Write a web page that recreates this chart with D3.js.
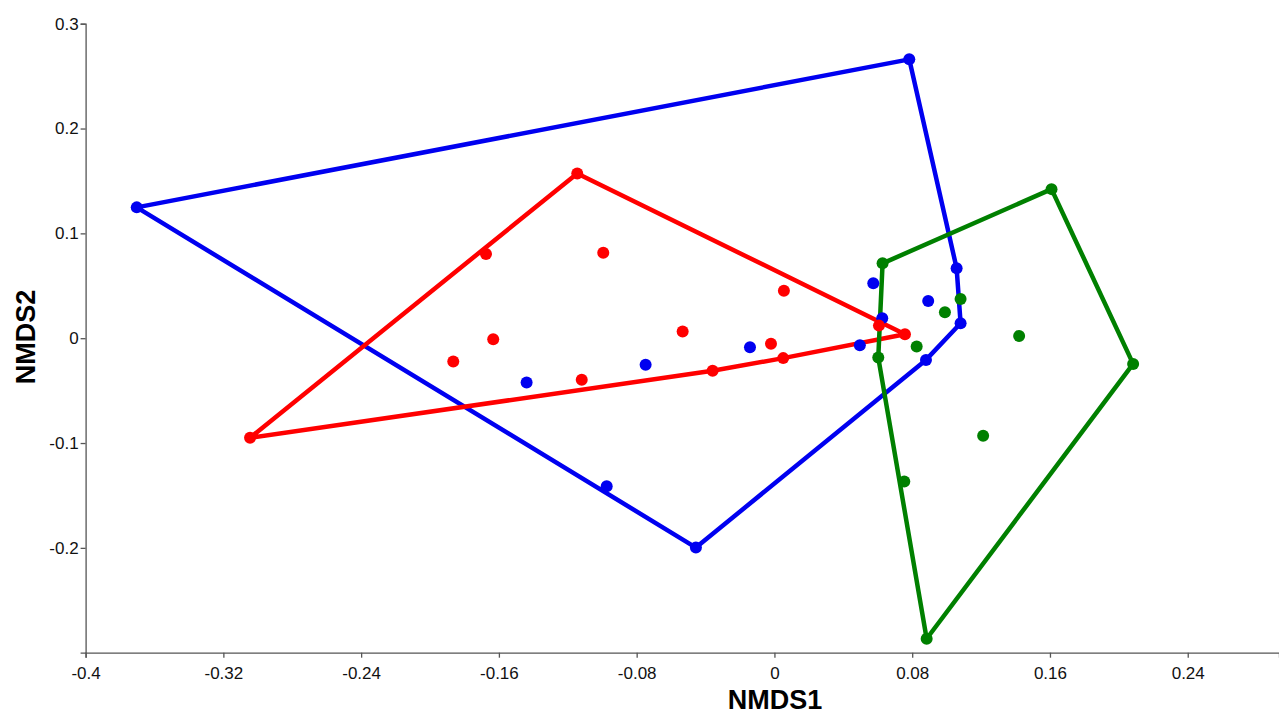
<!DOCTYPE html>
<html>
<head>
<meta charset="utf-8">
<script src="https://cdn.jsdelivr.net/npm/d3@7/dist/d3.min.js"></script>
<style>
  body { margin: 0; background: #fff; }
  svg { display: block; font-family: Arial, "Liberation Sans", sans-serif; }
  .axis path, .axis line { stroke: #555; stroke-width: 1.3; }
  .axis text { font-size: 17px; fill: #111; }
</style>
</head>
<body>
<svg width="1279" height="714"></svg>
<script>
// NMDS scores per group
var blueX = [0.0783, -0.3703, 0.1058, 0.1081, 0.0880, -0.0456, -0.0974, 0.0574, 0.0626, 0.0893, 0.0496, -0.0142, -0.0748, -0.1439];
var blueY = [0.2660, 0.1248, 0.0667, 0.0143, -0.0207, -0.1997, -0.1413, 0.0524, 0.0190, 0.0355, -0.0067, -0.0086, -0.0254, -0.0423];

var redX = [-0.1145, -0.3045, 0.0758, -0.1675, -0.0994, 0.0055, -0.0533, -0.1633, -0.1865, -0.1119, -0.0359, -0.0020, 0.0051, 0.0607];
var redY = [0.1571, -0.0950, 0.0038, 0.0803, 0.0815, 0.0453, 0.0063, -0.0010, -0.0223, -0.0397, -0.0311, -0.0054, -0.0190, 0.0120];

var greenX = [0.0628, 0.1609, 0.2083, 0.0884, 0.0603, 0.1081, 0.0990, 0.0826, 0.1421, 0.1212, 0.0754];
var greenY = [0.0714, 0.1422, -0.0245, -0.2867, -0.0185, 0.0374, 0.0248, -0.0080, 0.0022, -0.0930, -0.1366];

var xTicks = [-0.4, -0.32, -0.24, -0.16, -0.08, 0, 0.08, 0.16, 0.24];
var xTickLabels = ["-0.4", "-0.32", "-0.24", "-0.16", "-0.08", "0", "0.08", "0.16", "0.24"];
var yTicks = [-0.2, -0.1, 0, 0.1, 0.2, 0.3];
var yTickLabels = ["-0.2", "-0.1", "0", "0.1", "0.2", "0.3"];

var groups = [
  { name: "blue", color: "#0000f0", xs: blueX, ys: blueY },
  { name: "red", color: "#ff0000", xs: redX, ys: redY },
  { name: "green", color: "#008000", xs: greenX, ys: greenY }
];

var svg = d3.select("svg");

var x = d3.scaleLinear().domain([-0.4, 0.293]).range([85.6, 1279]);
var y = d3.scaleLinear().domain([-0.3, 0.3]).range([652.7, 23.7]);

// axes
svg.append("g")
  .attr("class", "axis")
  .attr("transform", "translate(0," + y(-0.3) + ")")
  .call(d3.axisBottom(x).tickValues(xTicks).tickSizeOuter(0).tickSize(5).tickPadding(9)
    .tickFormat(function(d, i) { return xTickLabels[i]; }));

svg.append("g")
  .attr("class", "axis")
  .attr("transform", "translate(" + x(-0.4) + ",0)")
  .call(d3.axisLeft(y).tickValues(yTicks).tickSizeOuter(0).tickSize(5).tickPadding(2)
    .tickFormat(function(d, i) { return yTickLabels[i]; }));

// axis titles
svg.append("text")
  .attr("x", 775)
  .attr("y", 709)
  .attr("text-anchor", "middle")
  .attr("font-size", "27px")
  .attr("font-weight", "bold")
  .text("NMDS1");

svg.append("text")
  .attr("transform", "translate(35," + 337 + ") rotate(-90)")
  .attr("text-anchor", "middle")
  .attr("font-size", "27px")
  .attr("font-weight", "bold")
  .text("NMDS2");

// hulls
groups.forEach(function(g) {
  var pts = g.xs.map(function(v, i) { return [x(v), y(g.ys[i])]; });
  var hull = d3.polygonHull(pts);
  svg.append("path")
    .attr("d", "M" + hull.join("L") + "Z")
    .attr("fill", "none")
    .attr("stroke", g.color)
    .attr("stroke-width", 4.5)
    .attr("stroke-linejoin", "round");
});

// points
groups.forEach(function(g) {
  svg.append("g").selectAll("circle")
    .data(g.xs)
    .enter().append("circle")
    .attr("cx", function(d) { return x(d); })
    .attr("cy", function(d, i) { return y(g.ys[i]); })
    .attr("r", 6)
    .attr("fill", g.color);
});
</script>
</body>
</html>
